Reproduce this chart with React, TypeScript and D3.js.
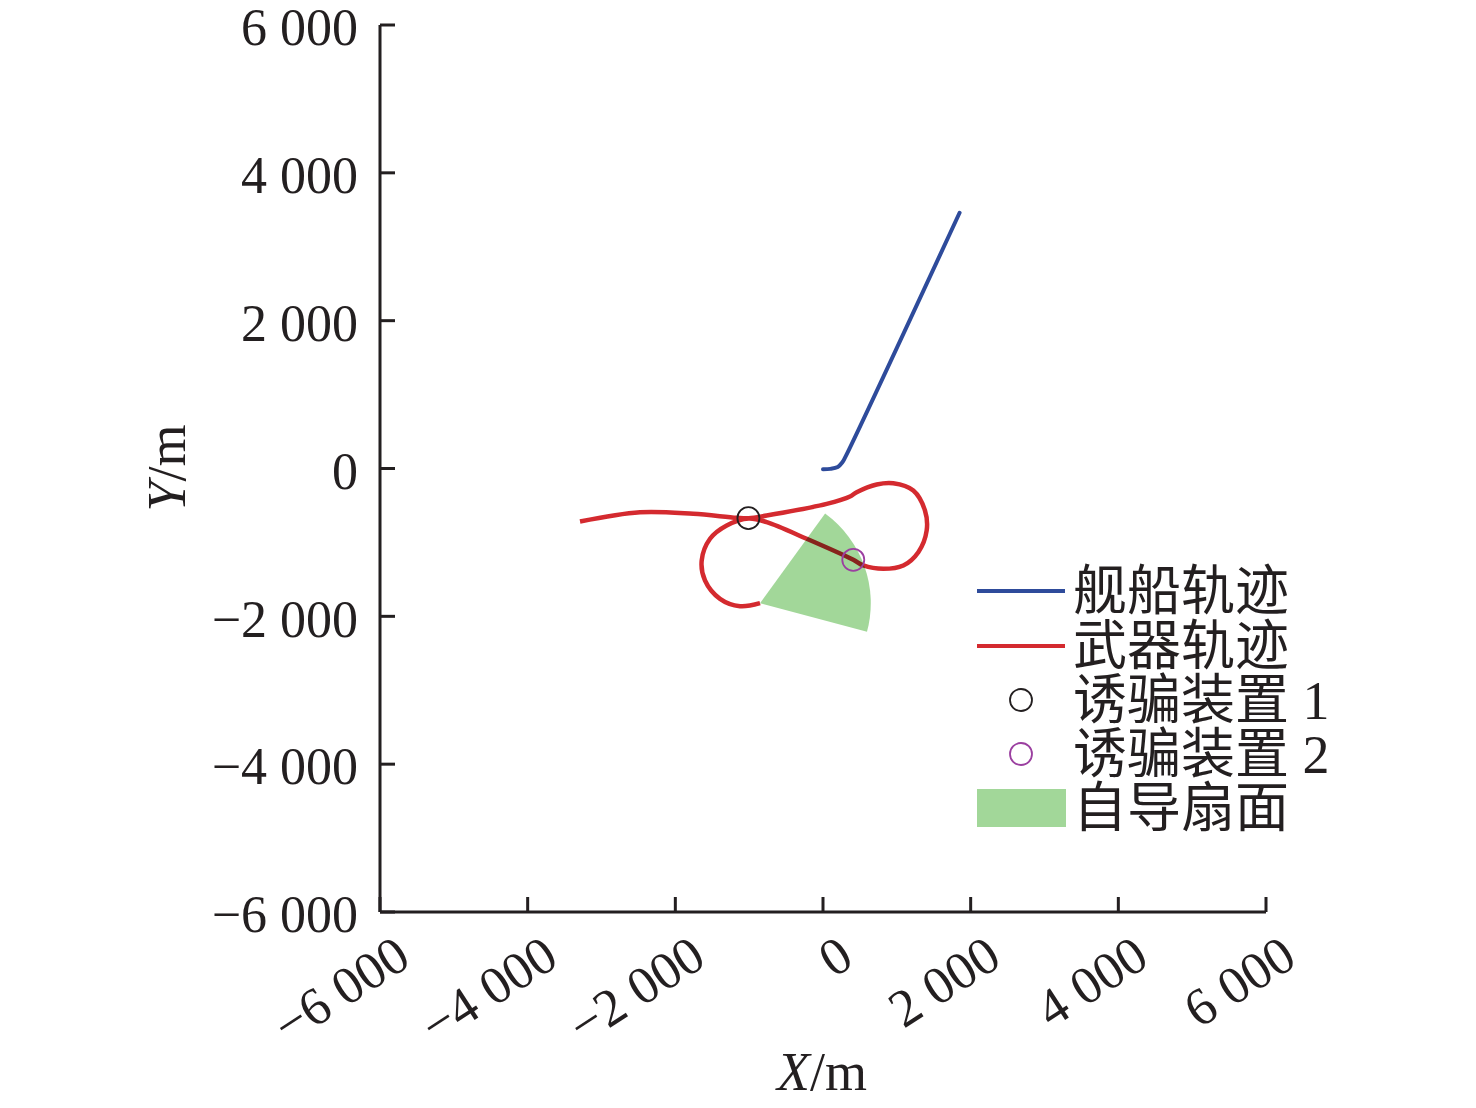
import React from "react";
import * as d3 from "d3";

// ---- data ----
const xTicks = [-6000, -4000, -2000, 0, 2000, 4000, 6000];
const yTicks = [-6000, -4000, -2000, 0, 2000, 4000, 6000];

const shipTrack: [number, number][] = [
  [0, -10], [100, -5], [200, 20], [260, 80], [300, 150], [1850, 3460],
];

const weaponTrack: [number, number][] = [
  [-3291, -717], [-2479, -591], [-1757, -613], [-1169, -667], [-1006, -673],
  [-763, -636], [50, -478], [366, -379], [456, -321], [727, -216], [952, -199],
  [1223, -298], [1381, -568], [1404, -839], [1291, -1132], [1088, -1312],
  [817, -1357], [546, -1312], [410, -1235], [-221, -951], [-763, -726],
  [-1006, -676], [-1304, -771], [-1530, -951], [-1643, -1245], [-1598, -1515],
  [-1395, -1763], [-1124, -1863], [-853, -1822],
];

const decoy1: [number, number] = [-1010, -672];
const decoy2: [number, number] = [410, -1235];

const sectorApex: [number, number] = [-853, -1822];
const sectorRadius = 1500;
const sectorStartDeg = 36;
const sectorEndDeg = 105;

const legendLabels = ["舰船轨迹", "武器轨迹", "诱骗装置 1", "诱骗装置 2", "自导扇面"];

const BLUE = "#2e4b9b";
const RED = "#d42a2f";
const GREEN = "#a2d799";
const PURPLE = "#9b3fa0";

const fmt = (v: number) => {
  const a = Math.abs(v);
  const s = a >= 1000 ? `${Math.floor(a / 1000)}\u00a0${String(a % 1000).padStart(3, "0")}` : String(a);
  return (v < 0 ? "\u2212" : "") + s;
};

export default function App() {
  const W = 1476, H = 1108;
  const x = d3.scaleLinear().domain([-6000, 6000]).range([380, 1266]);
  const y = d3.scaleLinear().domain([-6000, 6000]).range([912, 25]);

  const line = d3
    .line<[number, number]>()
    .x((d) => x(d[0]))
    .y((d) => y(d[1]))
    .curve(d3.curveCatmullRom.alpha(0.5));

  const rPx = x(sectorRadius) - x(0);
  const arc = d3.arc()({
    innerRadius: 0,
    outerRadius: rPx,
    startAngle: (sectorStartDeg * Math.PI) / 180,
    endAngle: (sectorEndDeg * Math.PI) / 180,
  } as any) as string;

  const serif = "'Liberation Serif', 'Times New Roman', serif";
  const cjk = "'Liberation Serif', 'Noto Sans CJK SC', serif";

  const legX0 = 977, legX1 = 1065, legText = 1073;
  const rows = [591, 646, 700, 754, 808];

  return (
    <svg width={W} height={H} style={{ position: "absolute", left: 0, top: 0, background: "#fff" }}>
      {/* axes */}
      <g stroke="#231f20" strokeWidth={3} fill="none">
        <line x1={x(-6000)} y1={y(-6000)} x2={x(-6000)} y2={y(6000)} />
        <line x1={x(-6000)} y1={y(-6000)} x2={x(6000)} y2={y(-6000)} />
        {yTicks.map((t) => (
          <line key={"yt" + t} x1={x(-6000)} x2={x(-6000) + 15} y1={y(t)} y2={y(t)} />
        ))}
        {xTicks.map((t) => (
          <line key={"xt" + t} x1={x(t)} x2={x(t)} y1={y(-6000)} y2={y(-6000) - 15} />
        ))}
      </g>
      <g fontFamily={serif} fontSize={52} fill="#231f20">
        {yTicks.map((t) => (
          <text key={"yl" + t} x={358} y={y(t) + 2} dy="0.35em" textAnchor="end">
            {fmt(t)}
          </text>
        ))}
        {xTicks.map((t) => (
          <text
            key={"xl" + t}
            transform={`translate(${x(t) + 33},${964}) rotate(-33)`}
            textAnchor="end"
            fontSize={53}
          >
            {fmt(t)}
          </text>
        ))}
        <text x={822} y={1090} textAnchor="middle" fontSize={54}>
          <tspan fontStyle="italic">X</tspan>/m
        </text>
        <text transform={`translate(185,468) rotate(-90)`} textAnchor="middle" fontSize={54}>
          <tspan fontStyle="italic">Y</tspan>/m
        </text>
      </g>

      {/* tracks */}
      <path d={line(shipTrack) || ""} fill="none" stroke={BLUE} strokeWidth={4} strokeLinecap="round" />
      <path d={line(weaponTrack) || ""} fill="none" stroke={RED} strokeWidth={4.5} strokeLinejoin="round" />

      {/* seeker sector */}
      <path
        d={arc}
        transform={`translate(${x(sectorApex[0])},${y(sectorApex[1])})`}
        fill={GREEN}
        style={{ mixBlendMode: "multiply" }}
      />

      {/* decoys */}
      <circle cx={x(decoy1[0])} cy={y(decoy1[1])} r={11} fill="none" stroke="#231f20" strokeWidth={1.8} />
      <circle cx={x(decoy2[0])} cy={y(decoy2[1])} r={11} fill="none" stroke={PURPLE} strokeWidth={1.8} />

      {/* legend */}
      <line x1={legX0} x2={legX1} y1={rows[0]} y2={rows[0]} stroke={BLUE} strokeWidth={4} />
      <line x1={legX0} x2={legX1} y1={rows[1]} y2={rows[1]} stroke={RED} strokeWidth={4} />
      <circle cx={1021} cy={rows[2]} r={11} fill="none" stroke="#231f20" strokeWidth={1.8} />
      <circle cx={1021} cy={rows[3]} r={11} fill="none" stroke={PURPLE} strokeWidth={1.8} />
      <rect x={legX0} y={rows[4] - 19} width={legX1 - legX0 + 1} height={38} fill={GREEN} />
      <g fontFamily={cjk} fontSize={54} fill="#231f20">
        {legendLabels.map((l, i) => (
          <text key={l} x={legText} y={rows[i]} dy="0.36em">
            {l}
          </text>
        ))}
      </g>
    </svg>
  );
}
